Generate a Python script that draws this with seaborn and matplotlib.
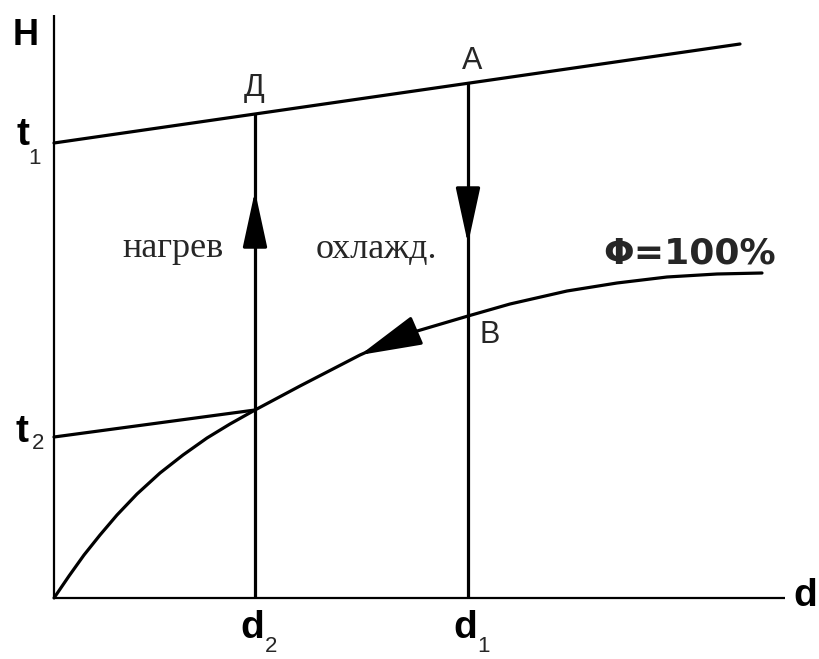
import numpy as np
import matplotlib
matplotlib.use("Agg")
import matplotlib.pyplot as plt
import seaborn as sns

# H-d diagram: cooling A->B along d1, along phi=100% down to t2, heating up to D along d2
# units: arbitrary (100 px per unit in the original drawing)
d2 = 2.01
d1 = 4.14

# isotherm t1 (upper) and t2 (lower)
t1_x = [0.0, 6.86]
t1_y = [4.55, 5.54]
t2_x = [0.0, 2.01]
t2_y = [1.61, 1.88]

# saturation curve phi = 100 %
sat_x = [0.0, 0.15, 0.30, 0.46, 0.63, 0.83, 1.06, 1.29, 1.53, 1.76, 2.01,
         2.46, 3.06, 3.53, 4.14, 4.56, 5.13, 5.63, 6.13, 6.63, 7.08]
sat_y = [0.0, 0.22, 0.43, 0.63, 0.83, 1.04, 1.25, 1.43, 1.60, 1.74, 1.88,
         2.12, 2.43, 2.64, 2.82, 2.94, 3.07, 3.15, 3.21, 3.24, 3.25]

x_end = 7.31
y_end = 5.83

sns.set_theme(style="white")
plt.rcParams["font.family"] = ["Liberation Sans", "DejaVu Sans"]

fig = plt.figure(figsize=(8.19, 6.59), dpi=100)
ax = fig.add_axes([0, 0, 1, 1])
ax.set_xlim(-0.54, 7.65)
ax.set_ylim(-0.61, 5.98)
ax.axis("off")

lw = 2.3
# axes
ax.plot([0, 0], [0, y_end], color="black", lw=1.6, solid_capstyle="butt")
ax.plot([0, x_end], [0, 0], color="black", lw=1.6, solid_capstyle="butt")

# isotherms and saturation line
sns.lineplot(x=t1_x, y=t1_y, ax=ax, color="black", lw=lw, sort=False, estimator=None)
sns.lineplot(x=t2_x, y=t2_y, ax=ax, color="black", lw=lw, sort=False, estimator=None)
sns.lineplot(x=sat_x, y=sat_y, ax=ax, color="black", lw=lw, sort=False, estimator=None)

# vertical process lines up to t1
for d in (d2, d1):
    top = np.interp(d, t1_x, t1_y)
    ax.plot([d, d], [0, top], color="black", lw=lw, solid_capstyle="butt")

arrow = dict(arrowstyle="-|>,head_length=1.75,head_width=0.38", mutation_scale=20,
             color="black", lw=lw, shrinkA=0, shrinkB=0)
ax.annotate("", xy=(d2, 4.07), xytext=(d2, 3.56), arrowprops=arrow)   # heating
ax.annotate("", xy=(d1, 3.54), xytext=(d1, 4.05), arrowprops=arrow)   # cooling
ax.annotate("", xy=(3.06, 2.43), xytext=(3.57, 2.65),
            arrowprops=dict(arrow, arrowstyle="-|>,head_length=1.95,head_width=0.48"))

# axis labels
bold = dict(fontweight="bold", color="black")
ax.text(-0.28, 5.63, "H", fontsize=26, ha="center", va="center", **bold)
ax.text(7.51, 0.02, "d", fontsize=28, ha="center", va="center", **bold)

for x, y, sub, sx, sy in [(-0.31, 4.63, "1", -0.19, 4.40),
                          (-0.32, 1.66, "2", -0.16, 1.55)]:
    ax.text(x, y, "t", fontsize=28, ha="center", va="center", **bold)
    ax.text(sx, sy, sub, fontsize=16, ha="center", va="center")

for x, sub in [(d2, "2"), (d1, "1")]:
    ax.text(x - 0.03, -0.30, "d", fontsize=28, ha="center", va="center", **bold)
    ax.text(x + 0.16, -0.48, sub, fontsize=16, ha="center", va="center")

# point labels
ax.text(2.00, 5.10, "Д", fontsize=22, ha="center", va="center")
ax.text(4.18, 5.37, "A", fontsize=22, ha="center", va="center")
ax.text(4.36, 2.63, "B", fontsize=22, ha="center", va="center")

serif = ["Liberation Serif", "DejaVu Serif"]
ax.text(1.19, 3.41, "нагрев", fontsize=26, family=serif, ha="center", va="baseline")
ax.text(3.22, 3.40, "охлажд.", fontsize=26, family=serif, ha="center", va="baseline")
ax.text(6.36, 3.35, "Φ=100%", fontsize=26, family=["DejaVu Sans"], fontweight="bold",
        ha="center", va="baseline")

fig.savefig("out.png", dpi=100)
